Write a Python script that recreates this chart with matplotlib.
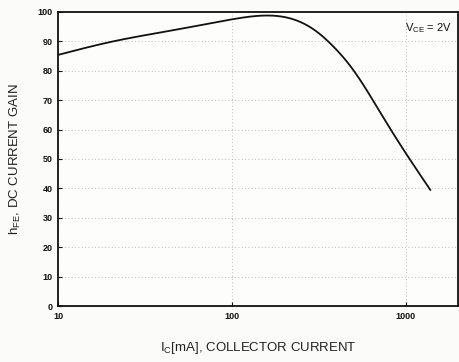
import matplotlib
matplotlib.use("Agg")
import matplotlib.pyplot as plt
import numpy as np

# DC current gain vs collector current (VCE = 2 V)
ic_ma = [10, 20, 50, 100, 157, 200, 250, 300, 380, 503, 647, 814, 1039, 1384]
hfe = [85.4, 89.8, 94.2, 97.5, 98.8, 98.3, 96.5, 93.8, 88.5, 80.0, 70.0, 60.3, 50.5, 39.5]

x_ticks = [10, 100, 1000]
x_tick_labels = ["10", "100", "1000"]
y_ticks = list(range(0, 101, 10))

plt.rcParams['font.family'] = ['Liberation Sans', 'DejaVu Sans']


def natural_spline(xp, yp, xq):
    """Natural cubic spline through (xp, yp), evaluated at xq."""
    xp = np.asarray(xp, float)
    yp = np.asarray(yp, float)
    n = len(xp)
    h = np.diff(xp)
    A = np.zeros((n, n))
    b = np.zeros(n)
    A[0, 0] = A[-1, -1] = 1.0
    for i in range(1, n - 1):
        A[i, i - 1] = h[i - 1]
        A[i, i] = 2 * (h[i - 1] + h[i])
        A[i, i + 1] = h[i]
        b[i] = 6 * ((yp[i + 1] - yp[i]) / h[i] - (yp[i] - yp[i - 1]) / h[i - 1])
    M = np.linalg.solve(A, b)
    out = np.empty_like(xq)
    for j, x in enumerate(xq):
        k = min(max(np.searchsorted(xp, x) - 1, 0), n - 2)
        t1 = xp[k + 1] - x
        t0 = x - xp[k]
        out[j] = (M[k] * t1**3 / (6 * h[k]) + M[k + 1] * t0**3 / (6 * h[k])
                  + (yp[k] / h[k] - M[k] * h[k] / 6) * t1
                  + (yp[k + 1] / h[k] - M[k + 1] * h[k] / 6) * t0)
    return out


fig = plt.figure(figsize=(4.59, 3.62), dpi=100)
fig.patch.set_facecolor("#fbfbfa")
ax = fig.add_axes([58/459, 1 - 306/362, (459 - 58)/459 - 0.002, (306 - 12)/362])
ax.set_facecolor("#fdfdfc")

lx = np.log10(ic_ma)
xs = np.linspace(lx[0], lx[-1], 400)
ys = natural_spline(lx, hfe, xs)
ax.plot(10**xs, ys, color="#111111", lw=1.3)

ax.set_xscale("log")
ax.set_xlim(10, 2000)
ax.set_ylim(0, 100)
ax.set_xticks(x_ticks)
ax.set_xticklabels(x_tick_labels)
ax.xaxis.set_minor_locator(matplotlib.ticker.NullLocator())
ax.set_yticks(y_ticks)

ax.grid(True, which="major", color="#a8a8a8", linestyle=(0, (1, 3)), lw=0.6)
ax.tick_params(axis="both", direction="in", length=3, width=0.8,
               labelsize=6.5, colors="#111111", pad=4)
for lab in ax.get_xticklabels() + ax.get_yticklabels():
    lab.set_fontweight("bold")

for side, sp in ax.spines.items():
    sp.set_color("#111111")
    sp.set_linewidth(1.3)

ax.set_ylabel(r"h$_{\mathregular{FE}}$, DC CURRENT GAIN", fontsize=9.5,
              color="#222222", labelpad=10)
ax.set_xlabel(r"I$_{\mathregular{C}}$[mA], COLLECTOR CURRENT", fontsize=9.5,
              color="#222222", labelpad=14)
ax.text(0.985, 0.97, r"V$_{\mathregular{CE}}$ = 2V", transform=ax.transAxes,
        ha="right", va="top", fontsize=8, color="#111111")

fig.savefig("out.png", dpi=100, facecolor=fig.get_facecolor())
